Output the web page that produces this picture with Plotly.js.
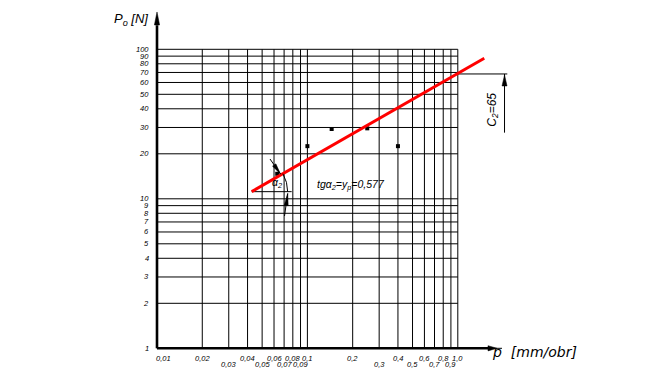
<!DOCTYPE html>
<html><head><meta charset="utf-8">
<script src="https://cdn.plot.ly/plotly-3.0.1.min.js"></script>
<style>html,body{margin:0;padding:0;background:#fff}#chart{width:650px;height:392px}</style>
</head><body><div id="chart"></div>
<script>
// ---- data ----
const xGrid = [0.01,0.02,0.03,0.04,0.05,0.06,0.07,0.08,0.09,0.1,0.2,0.3,0.4,0.5,0.6,0.7,0.8,0.9,1.0];
const yGrid = [1,2,3,4,5,6,7,8,9,10,20,30,40,50,60,70,80,90,100];
const xTickUpper = [0.01,0.02,0.04,0.06,0.08,0.1,0.2,0.4,0.6,0.8,1.0];
const xTickUpperText = ['0,01','0,02','0,04','0,06','0,08','0,1','0,2','0,4','0,6','0,8','1,0'];
const xTickLower = [0.03,0.05,0.07,0.09,0.3,0.5,0.7,0.9];
const xTickLowerText = ['0,03','0,05','0,07','0,09','0,3','0,5','0,7','0,9'];
const yTickText = yGrid.map(String);
const feed  = [0.063, 0.1, 0.145, 0.25, 0.4];      // p [mm/obr]
const force = [14.7, 22.5, 29.3, 29.6, 22.5];      // Po [N]
const fitFeed  = [0.0426, 1.50];
const fitForce = [11.16, 87.1];
const exponentText = '0,577';
const c2Text = '65';
const c2Level = 68.4;

// ---- decoration positions (data units) ----
const L = Math.log10;
const xMin = 0.01, xMax = 1.0, yMin = 1, yMax = 100;
const xAxisThickEnd = 1.637, xAxisThinEnd = 1.967, xAxisTip = 1.822;
const yAxisThickEnd = 145, yAxisTip = 177.7;
const alphaBaseEnd = 0.0786;
const c2HorizEnd = 2.134, c2VertX = 2.045, c2VertBottom = 27.7;
const alphaUpperTip = [0.06624, 14.65];
const alphaLowerTip = [0.07396, 10.85];

const black = '#000';
const lineTrace = (x, y, w, c) => ({x, y, mode:'lines', type:'scatter', hoverinfo:'skip', showlegend:false, line:{color:c||black, width:w}});

const vx = [], vy = [];
xGrid.forEach(p => { vx.push(p,p,null); vy.push(yMin,yMax,null); });
const hx = [], hy = [];
yGrid.forEach(v => { hx.push(xMin,xMax,null); hy.push(v,v,null); });

const traces = [
  lineTrace(vx, vy, 1),
  lineTrace(hx, hy, 1),
  lineTrace([xMin, xAxisThickEnd], [yMin, yMin], 2.6),
  lineTrace([xAxisThickEnd, xAxisThinEnd], [yMin, yMin], 1),
  lineTrace([xMin, xMin], [yMin, yAxisThickEnd], 2.6),
  lineTrace([fitFeed[0], alphaBaseEnd], [fitForce[0], fitForce[0]], 1),
  lineTrace([xMax, c2HorizEnd], [c2Level, c2Level], 1),
  lineTrace([c2VertX, c2VertX], [c2Level, c2VertBottom], 1),
  {x: feed, y: force, type:'scatter', mode:'markers', showlegend:false, hoverinfo:'skip',
   marker:{symbol:'square', size:4, color:black}},
  {x: fitFeed, y: fitForce, type:'scatter', mode:'lines', showlegend:false, hoverinfo:'skip',
   line:{color:'#ff0000', width:3}}
];

const tf = (size, fam) => ({family: fam || 'Liberation Sans, Arial, sans-serif', size, color:black, style:'italic'});
const ann = [];
xTickUpper.forEach((v,i) => ann.push({x:L(v), y:0, xref:'x', yref:'y', text:xTickUpperText[i], showarrow:false,
  xanchor:'center', yanchor:'middle', yshift:-10, xshift: i===0 ? 6 : 0, font:tf(7.5)}));
xTickLower.forEach((v,i) => ann.push({x:L(v), y:0, xref:'x', yref:'y', text:xTickLowerText[i], showarrow:false,
  xanchor:'center', yanchor:'middle', yshift:-16, font:tf(7.5)}));
yGrid.forEach((v,i) => ann.push({x:L(xMin), y:L(v), xref:'x', yref:'y', text:yTickText[i], showarrow:false,
  xanchor:'right', yanchor:'middle', xshift:-6, font:tf(7.5)}));

ann.push({x:-0.0528, y:0.9739, xref:'paper', yref:'paper', text:'P<sub>o</sub> [N]', showarrow:false, xanchor:'center', yanchor:'middle', font:tf(13)});
ann.push({x:0.2141, y:-0.0247, xref:'x', yref:'y', text:'p  [mm/obr]', showarrow:false, xanchor:'left', yanchor:'middle', font:tf(14, 'DejaVu Sans, sans-serif')});
ann.push({x:-0.7101, y:1.0923, xref:'x', yref:'y', text:'tgα<sub>2</sub>=y<sub>p</sub>=' + exponentText, showarrow:false, xanchor:'center', yanchor:'middle', font:tf(10.5)});
ann.push({x:-1.2041, y:1.1037, xref:'x', yref:'y', text:'α<sub>2</sub>', showarrow:false, xanchor:'center', yanchor:'middle', font:tf(10.5)});
ann.push({x:0.2320, y:1.594, xref:'x', yref:'y', text:'C<sub>2</sub>=' + c2Text, showarrow:false, textangle:-90, xanchor:'center', yanchor:'middle', font:tf(12)});

// pixel-sized shapes: anchors are raw data values on log axes, path in px (y up)
const pxShape = (xa, ya, path, fill) => ({type:'path', xref:'x', yref:'y', xsizemode:'pixel', ysizemode:'pixel',
  xanchor:xa, yanchor:ya, path, fillcolor: fill ? black : 'rgba(0,0,0,0)', line:{color:black, width: fill ? 0.5 : 1}, layer:'above'});

const shapes = [
  pxShape(xMin, yAxisTip, 'M0,0 L-2.6,-13 L2.6,-13 Z', true),
  pxShape(xAxisTip, yMin, 'M0,0 L-9,2.6 L-9,-2.6 Z', true),
  pxShape(c2VertX, c2Level, 'M0,-1 L-2.5,-12 L2.5,-12 Z', true),
  pxShape(alphaUpperTip[0], alphaUpperTip[1], 'M0,0 L-4.66,10.15 L-7.94,7.85 Z', true),
  pxShape(alphaUpperTip[0], alphaUpperTip[1], 'M-10.5,15 L0,0', false),
  pxShape(alphaLowerTip[0], alphaLowerTip[1], 'M0,0 L-3.48,-11.65 L0.48,-12.15 Z', true),
  pxShape(alphaLowerTip[0], alphaLowerTip[1], 'M-3.2,-22.5 L0,0', false),
  pxShape(fitFeed[0], fitForce[0], 'M36,0 Q36,9.65 31.2,18', false)
];

const layout = {
  width:650, height:392,
  margin:{l:150, r:140, t:10, b:37, pad:0},
  paper_bgcolor:'#fff', plot_bgcolor:'#fff',
  showlegend:false,
  xaxis:{type:'log', range:[-2.04654, 0.34707], visible:false, fixedrange:true},
  yaxis:{type:'log', range:[-0.04482, 2.26288], visible:false, fixedrange:true},
  annotations: ann,
  shapes: shapes
};
Plotly.newPlot('chart', traces, layout, {staticPlot:true, displayModeBar:false});
</script></body></html>
